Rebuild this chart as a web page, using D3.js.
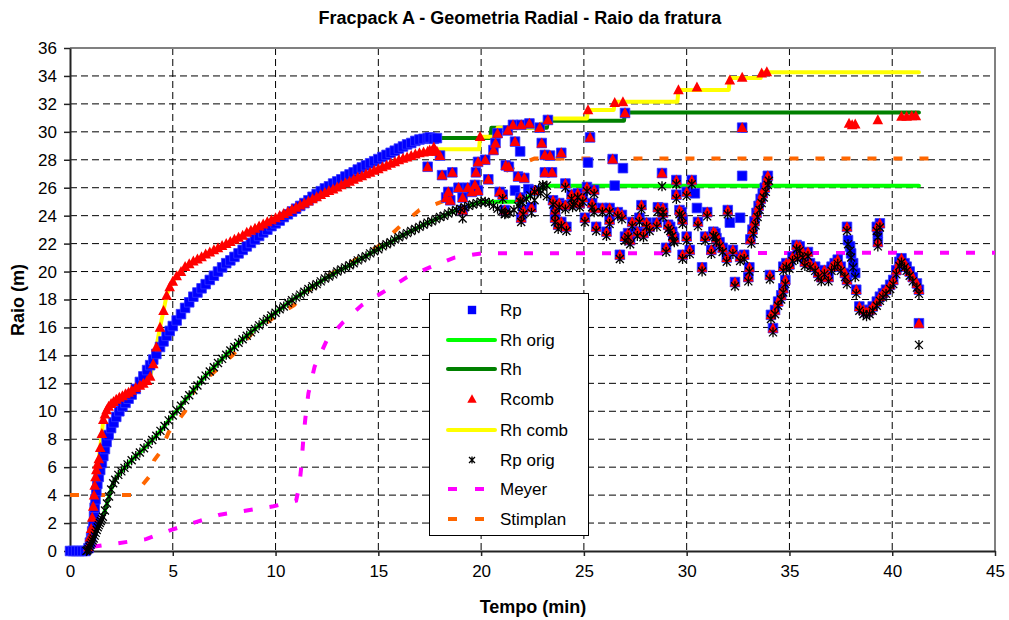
<!DOCTYPE html>
<html>
<head>
<meta charset="utf-8">
<script src="https://cdn.jsdelivr.net/npm/d3@7"></script>
<style>
  body { margin: 0; background: #fff; }
  svg { font-family: Arial, "Liberation Sans", sans-serif; }
</style>
</head>
<body>
<svg id="chart" width="1009" height="620"></svg>
<script>
// ---- axis ticks ----
const xTicks = [0, 5, 10, 15, 20, 25, 30, 35, 40, 45];
const yTicks = [0, 2, 4, 6, 8, 10, 12, 14, 16, 18, 20, 22, 24, 26, 28, 30, 32, 34, 36];

// ---- legend labels ----
const seriesNames = ["Rp", "Rh orig", "Rh", "Rcomb", "Rh comb", "Rp orig", "Meyer", "Stimplan"];

// ---- Rp: continuous growth phase [tempo, raio] ----
const rpCurve = [[0,0],[0.15,0],[0.3,0],[0.45,0],[0.6,0],[0.75,0],[0.9,0.2],[0.97,0.6],[1.03,1.0],[1.08,1.4],[1.13,1.9],[1.17,2.5],[1.2,3.1],[1.24,3.7],[1.28,4.3],[1.33,4.8],[1.4,5.3],[1.47,5.8],[1.55,6.3],[1.62,6.8],[1.7,7.3],[1.78,7.8],[1.88,8.3],[2.0,8.8],[2.12,9.2],[2.25,9.6],[2.4,10.0],[2.55,10.35],[2.7,10.6],[2.85,10.9],[3.0,11.2],[3.2,11.6],[3.4,12.1],[3.57,12.5],[3.75,12.95],[3.9,13.3],[4.05,13.7],[4.2,14.1],[4.38,14.6],[4.55,15.0],[4.7,15.4],[4.85,15.75],[5.0,16.1],[5.19,16.5],
  [5.4,16.95],[5.6,17.4],[5.8,17.8],[6.0,18.2],[6.2,18.5],[6.4,18.8],[6.6,19.1],[6.8,19.4],[7.0,19.7],[7.2,20.0],[7.4,20.3],[7.6,20.6],[7.8,20.8],[8.0,21.05],[8.2,21.3],[8.4,21.55],[8.6,21.8],[8.8,22.05],[9.0,22.3],[9.2,22.55],[9.4,22.8],[9.6,23.0],[9.8,23.25],[10.0,23.45],[10.2,23.65],[10.4,23.9],[10.6,24.1],[10.8,24.3],[11.0,24.5],[11.2,24.7],[11.4,24.9],[11.6,25.1],[11.8,25.35],[12.0,25.55],[12.2,25.75],[12.4,25.95],[12.6,26.1],[12.8,26.3],[13.0,26.45],[13.2,26.6],[13.4,26.8],[13.6,26.95],[13.8,27.1],[14.0,27.3],[14.2,27.45],[14.4,27.6],[14.6,27.75],[14.8,27.9],[15.0,28.05],[15.2,28.2],[15.4,28.35],[15.6,28.5],[15.8,28.65],[16.0,28.8],[16.2,28.95],[16.4,29.1],[16.6,29.2],[16.8,29.35],[17.0,29.45],[17.2,29.5],[17.4,29.55],[17.6,29.55]];

// ---- Rcomb: continuous growth phase ----
const rcombCurve = [[0.9,0.3],[0.97,1.0],[1.03,1.6],[1.08,2.4],[1.13,3.2],[1.17,4.0],[1.2,4.7],[1.24,5.3],[1.28,5.8],[1.33,6.2],[1.4,6.6],[1.47,7.4],[1.55,8.4],[1.62,9.4],[1.7,9.8],[1.78,10.1],[1.88,10.35],[2.0,10.55],[2.12,10.7],[2.25,10.85],[2.4,11.0],[2.55,11.1],[2.7,11.25],[2.85,11.35],[3.0,11.5],[3.2,11.7],[3.4,11.85],[3.57,12.0],[3.75,12.2],[3.9,12.5],[4.05,13.4],[4.2,14.6],[4.38,16.0],[4.55,17.2],[4.7,18.3],[4.85,18.9],[5.0,19.3],[5.19,19.7],
  [5.4,20.0],[5.6,20.35],[5.8,20.55],[6.0,20.75],[6.2,20.9],[6.4,21.05],[6.6,21.25],[6.8,21.4],[7.0,21.55],[7.2,21.7],[7.4,21.85],[7.6,22.0],[7.8,22.15],[8.0,22.3],[8.2,22.45],[8.4,22.6],[8.6,22.8],[8.8,22.95],[9.0,23.1],[9.2,23.25],[9.4,23.4],[9.6,23.55],[9.8,23.7],[10.0,23.85],[10.2,24.0],[10.4,24.15],[10.6,24.3],[10.8,24.45],[11.0,24.6],[11.2,24.75],[11.4,24.9],[11.6,25.05],[11.8,25.2],[12.0,25.35],[12.2,25.5],[12.4,25.65],[12.6,25.8],[12.8,25.9],[13.0,26.05],[13.2,26.2],[13.4,26.35],[13.6,26.45],[13.8,26.6],[14.0,26.75],[14.2,26.85],[14.4,27.0],[14.6,27.1],[14.8,27.25],[15.0,27.35],[15.2,27.5],[15.4,27.6],[15.6,27.75],[15.8,27.85],[16.0,28.0],[16.2,28.1],[16.4,28.2],[16.6,28.3],[16.8,28.4],[17.0,28.5],[17.2,28.55],[17.4,28.6],[17.6,28.6]];

// ---- Rp orig: continuous growth phase ----
const rpOrigCurve = [[0.8,0],[0.85,0.05],[0.9,0.15],[0.95,0.3],[1.0,0.45],[1.05,0.6],[1.1,0.75],[1.15,0.9],[1.2,1.1],[1.25,1.3],[1.3,1.5],[1.35,1.7],[1.4,1.85],[1.45,2.0],[1.5,2.15],[1.55,2.3],[1.6,2.45],[1.7,2.9],[1.8,3.4],[1.9,3.9],[2.0,4.4],[2.1,4.85],[2.2,5.1],[2.35,5.45],[2.5,5.7],[2.65,5.95],[2.8,6.2],[3.0,6.5],[3.2,6.8],[3.4,7.05],[3.6,7.35],[3.8,7.65],[4.0,7.95],[4.2,8.25],[4.4,8.6],[4.6,8.95],[4.8,9.35],
  [5.0,9.7],[5.2,10.05],[5.4,10.4],[5.6,10.8],[5.8,11.15],[6.0,11.5],[6.2,11.85],[6.4,12.2],[6.6,12.55],[6.8,12.85],[7.0,13.15],[7.2,13.45],[7.4,13.75],[7.6,14.05],[7.8,14.35],[8.0,14.6],[8.2,14.9],[8.4,15.15],[8.6,15.4],[8.8,15.65],[9.0,15.9],[9.2,16.15],[9.4,16.4],[9.6,16.6],[9.8,16.85],[10.0,17.05],[10.2,17.3],[10.4,17.5],[10.6,17.75],[10.8,17.95],[11.0,18.15],[11.2,18.35],[11.4,18.55],[11.6,18.75],[11.8,18.95],[12.0,19.1],[12.2,19.3],[12.4,19.5],[12.6,19.65],[12.8,19.8],[13.0,20.0],[13.2,20.15],[13.4,20.3],[13.6,20.45],[13.8,20.6],[14.0,20.8],[14.2,20.95],[14.4,21.1],[14.6,21.3],[14.8,21.45],[15.0,21.6],[15.2,21.8],[15.4,21.95],[15.6,22.1],[15.8,22.3],[16.0,22.45],[16.2,22.6],[16.4,22.75],[16.6,22.9],[16.8,23.05],[17.0,23.2],[17.2,23.35],[17.4,23.5],[17.6,23.6],[17.8,23.75],[18.0,23.9],[18.2,24.0],[18.4,24.15],[18.6,24.3],[18.8,24.4],[19.0,24.5],[19.2,24.6],[19.4,24.7],[19.6,24.8],[19.8,24.9],[20.0,25.0],
  [20.2,25.0],[20.4,24.9],[20.6,24.7],[20.8,24.5],[21.0,24.3],[21.2,24.15],[21.4,24.2],[21.6,24.4],[21.8,24.7],[22.0,24.95],[22.2,25.2],[22.4,25.45],[22.6,25.7],[22.8,25.9],[23.0,26.05],[23.2,26.15]];

// ---- scattered phase (closures / re-openings) ----
const rpScatter = [[17.4,27.5],[17.5,29.6],[17.7,29.5],[17.85,29.55],[18.0,28.3],[18.1,26.9],[18.3,25.3],[18.4,25.7],[18.5,25.1],[18.6,27.1],[18.9,26.0],[19.1,25.3],[19.1,24.4],[19.35,26.0],[19.55,25.7],[19.7,26.2],[19.75,27.1],[19.85,25.8],[19.85,27.85],[20.2,28.0],[20.35,26.6],[20.6,28.7],[20.7,29.2],[20.8,29.9],[20.9,25.7],[21.05,25.5],[21.15,24.4],[21.2,27.6],[21.3,30.1],[21.35,27.5],[21.55,30.5],[21.65,29.3],[21.65,25.8],[21.8,26.8],[21.9,28.6],[21.9,25.3],[21.95,30.5],[21.95,23.85],[22.05,24.4],[22.1,26.7],[22.3,25.9],[22.35,30.6],[22.45,24.6],[22.6,25.8],[22.85,30.3],[22.95,29.2],[23.1,27.1],[23.1,28.35],[23.25,30.85],[23.35,28.3],[23.45,27.1],
  [23.5,25.1],[23.6,24.4],[23.6,23.85],[23.75,23.35],[23.8,24.9],[23.9,28.5],[23.9,23.55],[24.1,26.3],[24.1,24.75],[24.15,23.2],[24.4,25.5],[24.45,24.9],[24.5,25.1],[24.7,25.6],[24.8,24.9],[24.95,25.3],[25.05,23.85],[25.15,26.05],[25.2,27.8],[25.3,29.6],[25.4,24.9],[25.5,25.85],[25.5,24.55],[25.6,23.2],[25.9,24.55],[26.1,22.85],[26.25,24.55],[26.25,23.7],[26.4,28.05],[26.5,26.15],[26.65,24.25],[26.75,21.2],[26.85,24.05],[26.9,27.4],[27.0,31.35],[27.0,22.5],[27.15,22.75],[27.25,22.25],[27.35,23.55],[27.6,22.85],[27.7,23.85],[27.8,24.75],[27.9,22.75],[28.05,23.5],[28.2,23.2],[28.55,23.5],[28.6,24.6],[28.8,27.05],[28.85,24.55],[28.85,24.2],[29.0,21.7],[29.1,23.35],[29.2,23.2],[29.3,22.85],[29.35,22.5],[29.4,22.4],[29.5,26.55],[29.5,25.5],[29.65,24.4],[29.75,24.25],[29.8,23.7],[29.8,21.2],[30.0,25.7],[30.0,22.5],[30.15,21.55],[30.25,26.55],[30.4,25.6],[30.5,24.55],[30.55,23.55],[30.75,20.3],[30.9,22.5],[31.0,24.25],[31.2,21.55],[31.3,22.85],[31.4,22.75],[31.45,22.4],[31.6,22.1],[31.75,21.7],[31.95,21.0],[32.0,24.4],[32.1,23.5],[32.25,21.55],[32.35,19.25],[32.6,23.85],[32.6,21.05],[32.7,26.85],[32.7,30.3],[32.8,21.2],[33.0,19.6],[33.05,20.3],[33.1,22.3],[33.2,23.0],[33.3,23.6],[33.4,24.2],[33.5,24.7],[33.6,25.2],[33.7,25.6],[33.8,26.0],[33.9,26.5],[33.95,26.85],
  [34.05,19.75],[34.1,16.9],[34.2,15.95],[34.3,17.25],[34.45,17.85],[34.6,18.3],[34.7,18.8],[34.8,19.4],[34.7,20.35],[34.85,20.6],[35.0,20.5],[35.15,21.05],[35.35,21.9],[35.5,21.8],[35.4,21.2],[35.65,21.3],[35.9,21.4],[35.75,20.7],[36.0,20.6],[36.25,20.35],[36.4,19.9],[36.55,19.6],[36.7,20.1],[36.9,19.6],[37.05,20.35],[37.2,20.6],[37.35,20.85],[37.5,20.35],[37.7,19.9],[37.8,19.4],[37.8,23.2],[37.85,22.25],[37.95,21.8],[38.0,21.3],[38.1,20.6],[38.2,19.9],[38.25,18.7],[38.4,17.5],[38.6,17.25],[38.75,17.1],[38.9,17.25],[39.05,17.5],[39.25,17.85],[39.25,23.2],[39.3,22.75],[39.3,22.1],[39.4,23.45],[39.4,18.2],[39.55,18.45],[39.7,18.7],[39.9,19.05],[40.05,19.4],[40.2,20.1],[40.35,20.7],[40.45,20.95],[40.6,20.6],[40.7,20.35],[40.85,20.0],[41.0,19.6],[41.2,19.15],[41.3,18.7],[41.3,16.3]];

const rcombScatter = [[17.4,27.5],[17.5,28.7],[17.7,28.9],[17.85,28.6],[18.0,28.3],[18.1,26.9],[18.3,25.3],[18.4,25.7],[18.5,25.1],[18.6,27.1],[18.9,26.0],[19.1,25.3],[19.1,24.4],[19.35,26.0],[19.55,25.7],[19.7,26.2],[19.75,27.1],[19.85,25.8],[19.85,27.85],[19.95,29.65],[20.2,28.0],[20.35,26.6],[20.6,28.7],[20.7,29.2],[20.8,29.9],[20.9,25.7],[21.05,25.5],[21.15,24.4],[21.2,27.6],[21.3,30.1],[21.35,27.5],[21.55,30.5],[21.65,29.3],[21.8,26.8],[21.9,25.3],[21.95,30.5],[21.95,23.85],[22.05,24.4],[22.1,26.7],[22.35,30.6],[22.45,24.6],[22.6,25.8],[22.85,30.3],[22.95,29.2],[23.1,27.1],[23.1,28.35],[23.25,30.85],[23.35,28.3],[23.45,27.1],
  [23.5,25.1],[23.6,24.4],[23.6,23.85],[23.75,23.35],[23.8,24.9],[23.9,28.5],[23.9,23.55],[24.1,26.3],[24.1,24.75],[24.15,23.2],[24.4,25.5],[24.45,24.9],[24.5,25.1],[24.7,25.6],[24.8,24.9],[24.95,25.3],[25.05,23.85],[25.15,26.05],[25.2,31.57],[25.3,29.6],[25.4,24.9],[25.5,25.85],[25.5,24.55],[25.6,23.2],[25.9,24.55],[26.1,22.85],[26.25,24.55],[26.25,23.7],[26.4,28.05],[26.5,32.1],[26.65,24.25],[26.75,21.2],[26.85,24.05],[26.9,32.15],[27.0,31.35],[27.0,22.5],[27.15,22.75],[27.25,22.25],[27.35,23.55],[27.6,22.85],[27.7,23.85],[27.8,24.75],[27.9,22.75],[28.05,23.5],[28.2,23.2],[28.55,23.5],[28.6,24.6],[28.8,27.05],[28.85,24.55],[28.85,24.2],[29.0,21.7],[29.1,23.35],[29.2,23.2],[29.3,22.85],[29.35,22.5],[29.4,22.4],[29.5,26.55],[29.5,25.5],[29.6,33.0],[29.65,24.4],[29.75,24.25],[29.8,23.7],[29.8,21.2],[30.0,25.7],[30.0,22.5],[30.15,21.55],[30.25,26.55],[30.5,33.2],[30.55,23.55],[30.75,20.3],[30.9,22.5],[31.0,24.25],[31.2,21.55],[31.3,22.85],[31.4,22.75],[31.45,22.4],[31.6,22.1],[31.75,21.7],[31.95,21.0],[32.0,24.4],[32.1,33.7],[32.25,21.55],[32.35,19.25],[32.6,21.05],[32.7,30.3],[32.7,33.9],[32.8,21.2],[33.0,19.6],[33.05,20.3],[33.1,22.3],[33.2,23.0],[33.3,23.6],[33.4,24.2],[33.5,24.7],[33.6,25.2],[33.65,34.2],[33.7,25.6],[33.8,26.0],[33.9,26.5],[33.9,34.3],[33.95,26.85],
  [34.05,19.75],[34.1,16.9],[34.2,15.95],[34.3,17.25],[34.45,17.85],[34.6,18.3],[34.7,18.8],[34.8,19.4],[34.7,20.35],[34.85,20.6],[35.0,20.5],[35.15,21.05],[35.35,21.9],[35.5,21.8],[35.4,21.2],[35.65,21.3],[35.9,21.4],[35.75,20.7],[36.0,20.6],[36.25,20.35],[36.4,19.9],[36.55,19.6],[36.7,20.1],[36.9,19.6],[37.05,20.35],[37.2,20.6],[37.35,20.85],[37.5,20.35],[37.7,19.9],[37.8,19.4],[37.8,23.2],[37.9,30.6],[38.05,30.5],[38.2,30.55],[38.25,18.7],[38.4,17.5],[38.6,17.25],[38.75,17.1],[38.9,17.25],[39.05,17.5],[39.25,17.85],[39.25,23.2],[39.3,22.1],[39.3,30.85],[39.4,23.45],[39.4,18.2],[39.55,18.45],[39.7,18.7],[39.9,19.05],[40.05,19.4],[40.2,20.1],[40.35,20.7],[40.45,20.95],[40.45,31.1],[40.6,20.6],[40.7,20.35],[40.7,31.1],[40.85,20.0],[40.95,31.15],[41.0,19.6],[41.15,31.15],[41.2,19.15],[41.3,18.7],[41.3,16.3]];

const rpOrigScatter = [[19.1,23.8],[21.05,25.2],[21.15,24.1],[21.9,25.0],[21.95,23.55],[22.05,24.1],[22.45,24.2],[22.6,25.1],[22.9,25.6],[23.0,26.2],[23.2,25.4],
  [23.5,24.8],[23.6,24.1],[23.6,23.55],[23.75,23.05],[23.8,24.6],[23.9,23.25],[24.1,26.0],[24.1,24.45],[24.15,22.9],[24.4,25.2],[24.45,24.6],[24.5,24.8],[24.7,25.3],[24.8,24.6],[24.95,25.0],[25.05,23.55],[25.15,25.75],[25.4,24.6],[25.5,25.55],[25.5,24.25],[25.6,22.9],[25.9,24.25],[26.1,22.55],[26.25,24.25],[26.25,23.4],[26.65,23.95],[26.75,20.9],[26.85,23.75],[27.0,22.2],[27.15,22.45],[27.25,21.95],[27.35,23.25],[27.6,22.55],[27.7,23.55],[27.8,24.45],[27.9,22.45],[28.05,23.2],[28.2,22.9],[28.55,23.2],[28.6,24.3],[28.8,26.1],[28.85,24.25],[28.85,23.9],[29.0,21.4],[29.1,23.05],[29.2,22.9],[29.3,22.55],[29.35,22.2],[29.4,22.1],[29.5,26.25],[29.5,25.2],[29.65,24.1],[29.75,23.95],[29.8,23.4],[29.8,20.9],[30.0,25.4],[30.0,22.2],[30.15,21.25],[30.25,26.25],[30.55,23.25],[30.75,20.0],[30.9,22.2],[31.0,23.95],[31.2,21.25],[31.3,22.55],[31.4,22.45],[31.45,22.1],[31.6,21.8],[31.75,21.4],[31.95,20.7],[32.0,24.1],[32.25,21.25],[32.35,18.95],[32.6,20.75],[32.8,20.9],[33.0,19.3],[33.05,20.0],[33.15,22.0],[33.25,22.7],[33.35,23.3],[33.45,23.9],[33.55,24.4],[33.65,24.9],[33.75,25.3],[33.85,25.7],[33.95,26.2],[34.0,26.5],
  [34.05,19.45],[34.1,16.6],[34.2,15.65],[34.3,16.95],[34.45,17.55],[34.6,18.0],[34.7,18.5],[34.8,19.1],[34.7,20.05],[34.85,20.3],[35.0,20.2],[35.15,20.75],[35.35,21.6],[35.5,21.5],[35.4,20.9],[35.65,21.0],[35.9,21.1],[35.75,20.4],[36.0,20.3],[36.25,20.05],[36.4,19.6],[36.55,19.3],[36.7,19.8],[36.9,19.3],[37.05,20.05],[37.2,20.3],[37.35,20.55],[37.5,20.05],[37.7,19.6],[37.8,19.1],[37.8,22.9],[37.85,21.95],[37.95,21.5],[38.0,21.0],[38.1,20.3],[38.2,19.6],[38.25,18.4],[38.4,17.2],[38.6,16.95],[38.75,16.8],[38.9,16.95],[39.05,17.2],[39.25,17.55],[39.25,22.9],[39.3,22.45],[39.3,21.8],[39.4,23.15],[39.4,17.9],[39.55,18.15],[39.7,18.4],[39.9,18.75],[40.05,19.1],[40.2,19.8],[40.35,20.4],[40.45,20.65],[40.6,20.3],[40.7,20.05],[40.85,19.7],[41.0,19.3],[41.2,18.85],[41.3,18.4],[41.3,14.75]];

// ---- Rh orig / Rh / Rh comb: running maxima after the growth phase ----
const rhOrigSteps = [[20.0,25.0],[22.0,25.0],[22.4,25.45],[22.8,25.9],[23.2,26.15],[41.3,26.15]];
const rhSteps = [[17.6,29.55],[20.45,29.55],[20.5,30.3],[23.2,30.3],[23.25,30.8],[26.95,30.8],[27.0,31.38],[41.3,31.38]];
const rhCombSteps = [[17.6,28.6],[17.9,28.75],[19.9,28.75],[19.95,29.65],[20.75,29.65],[20.8,30.3],[22.85,30.3],[22.9,30.6],[23.2,30.6],[23.25,30.95],[25.15,30.95],[25.2,31.57],[26.45,31.57],[26.5,32.15],[29.55,32.15],[29.6,33.0],[32.05,33.0],[32.1,33.85],[33.6,33.85],[33.65,34.27],[41.3,34.27]];

// ---- model curves ----
const meyer = [[1.1,0.3],[2.3,0.55],[3.7,0.85],[4.9,1.5],[6.2,2.1],[7.3,2.6],[8.6,2.9],[9.9,3.2],[11.0,3.6],[11.15,4.6],[11.25,6.0],[11.35,8.0],[11.45,9.5],[11.6,11.3],[11.9,13.2],[12.5,15.1],[13.3,16.4],[14.2,17.6],[15.2,18.5],[16.4,19.6],[17.5,20.3],[18.7,21.0],[20.0,21.3],[45,21.35]];
const stimplan = [[0,4.0],[3.1,4.0],[3.4,4.5],[3.9,5.4],[4.1,6.5],[4.4,7.1],[4.8,8.5],[5.6,10.0],[6.1,11.7],[7.0,12.8],[7.9,14.0],[8.8,15.5],[9.9,16.7],[10.9,17.6],[12.0,19.2],[13.5,20.5],[15.0,21.8],[16.1,23.3],[17.0,24.4],[18.1,25.0],[19.3,25.8],[20.6,26.8],[21.8,27.6],[22.6,28.1],[42,28.1]];

// ---- layout ----
const svg = d3.select("#chart");
const plot = { left: 70, right: 995, top: 48, bottom: 551 };
const x = d3.scaleLinear().domain([0, 45]).range([plot.left, plot.right]);
const y = d3.scaleLinear().domain([0, 36]).range([plot.bottom, plot.top]);

svg.append("rect").attr("width", 1009).attr("height", 620).attr("fill", "#fff");

// dashed grid
const grid = svg.append("g");
grid.selectAll("line.h").data(yTicks.filter(v => v > 0 && v < 36)).join("line")
  .attr("x1", plot.left).attr("x2", plot.right)
  .attr("y1", d => y(d)).attr("y2", d => y(d))
  .attr("stroke", "#000").attr("stroke-width", 1).attr("stroke-dasharray", "7,4");
grid.selectAll("line.v").data(xTicks.filter(v => v > 0 && v < 45)).join("line")
  .attr("y1", plot.top).attr("y2", plot.bottom)
  .attr("x1", d => x(d)).attr("x2", d => x(d))
  .attr("stroke", "#000").attr("stroke-width", 1).attr("stroke-dasharray", "7,4");

// plot frame: grey top/right
svg.append("path")
  .attr("d", `M${plot.left},${plot.top}H${plot.right}V${plot.bottom}`)
  .attr("fill", "none").attr("stroke", "#808080").attr("stroke-width", 2);

// axes
const xAxis = svg.append("g").attr("transform", `translate(0,${plot.bottom})`)
  .call(d3.axisBottom(x).tickValues(xTicks).tickSize(5).tickSizeOuter(0).tickPadding(9));
const yAxis = svg.append("g").attr("transform", `translate(${plot.left},0)`)
  .call(d3.axisLeft(y).tickValues(yTicks).tickSize(6).tickSizeOuter(0).tickPadding(7));
[xAxis, yAxis].forEach(g => {
  g.select(".domain").attr("stroke", "#222").attr("stroke-width", 2);
  g.selectAll(".tick line").attr("stroke", "#222").attr("stroke-width", 1.5);
  g.selectAll(".tick text").attr("font-size", 17).attr("fill", "#000")
    .attr("font-family", "Arial, 'Liberation Sans', sans-serif");
});

// titles
svg.append("text").attr("x", 520).attr("y", 24).attr("text-anchor", "middle")
  .attr("font-size", 18).attr("font-weight", "bold").text("Fracpack A - Geometria Radial - Raio da fratura");
svg.append("text").attr("x", 533).attr("y", 613).attr("text-anchor", "middle")
  .attr("font-size", 18).attr("font-weight", "bold").text("Tempo (min)");
svg.append("text").attr("transform", "translate(24,300) rotate(-90)").attr("text-anchor", "middle")
  .attr("font-size", 18).attr("font-weight", "bold").text("Raio (m)");

// line series
const line = d3.line().x(d => x(d[0])).y(d => y(d[1]));
const rhOrigLine = rpOrigCurve.filter(d => d[0] < 20).concat(rhOrigSteps);
const rhLine = rpCurve.concat(rhSteps);
const rhCombLine = rcombCurve.concat(rhCombSteps);

const lines = svg.append("g").attr("fill", "none");
lines.append("path").attr("d", line(stimplan)).attr("stroke", "#FF6600").attr("stroke-width", 4).attr("stroke-dasharray", "9,17");
lines.append("path").attr("d", line(meyer)).attr("stroke", "#FF00FF").attr("stroke-width", 4).attr("stroke-dasharray", "9,17");
lines.append("path").attr("d", line(rhOrigLine)).attr("stroke", "#00FF00").attr("stroke-width", 4).attr("stroke-linecap", "round").attr("stroke-linejoin", "round");
lines.append("path").attr("d", line(rhLine)).attr("stroke", "#008000").attr("stroke-width", 4).attr("stroke-linecap", "round").attr("stroke-linejoin", "round");
lines.append("path").attr("d", line(rhCombLine)).attr("stroke", "#FFFF00").attr("stroke-width", 4).attr("stroke-linecap", "round").attr("stroke-linejoin", "round");

// markers
const squarePath = "M-4.8,-4.8H4.8V4.8H-4.8Z";
const trianglePath = "M0,-5.6L5.3,4.4L-5.3,4.4Z";
const starPath = "M-4,-4L4,4M-4,4L4,-4M0,-5V5";

const rpAll = rpCurve.concat(rpScatter);
const rcombAll = rcombCurve.concat(rcombScatter);
const rpOrigAll = rpOrigCurve.concat(rpOrigScatter);

svg.append("g").selectAll("path").data(rpAll).join("path")
  .attr("d", squarePath).attr("transform", d => `translate(${x(d[0])},${y(d[1])})`)
  .attr("fill", "#0000FF").attr("stroke", "#3535ff").attr("stroke-width", 0.8);
svg.append("g").selectAll("path").data(rcombAll).join("path")
  .attr("d", trianglePath).attr("transform", d => `translate(${x(d[0])},${y(d[1])})`)
  .attr("fill", "#FF0000");
svg.append("g").selectAll("path").data(rpOrigAll).join("path")
  .attr("d", starPath).attr("transform", d => `translate(${x(d[0])},${y(d[1])})`)
  .attr("fill", "none").attr("stroke", "#000").attr("stroke-width", 1.3);

// legend
const lg = svg.append("g");
lg.append("rect").attr("x", 429.5).attr("y", 293.5).attr("width", 159).attr("height", 242)
  .attr("fill", "#fff").attr("stroke", "#000").attr("stroke-width", 1);
const legendY = [310, 340, 369, 399, 430, 460, 489, 519];
const sx = 472, lx1 = 448, lx2 = 495;
seriesNames.forEach((name, i) => {
  lg.append("text").attr("x", 500).attr("y", legendY[i]).attr("dy", "0.36em")
    .attr("font-size", 17).text(name);
});
lg.append("path").attr("d", "M-4.2,-4.2H4.2V4.2H-4.2Z").attr("transform", `translate(${sx},${legendY[0]})`).attr("fill", "#0000FF");
lg.append("line").attr("x1", lx1).attr("x2", lx2).attr("y1", legendY[1]).attr("y2", legendY[1]).attr("stroke", "#00FF00").attr("stroke-width", 4).attr("stroke-linecap", "round");
lg.append("line").attr("x1", lx1).attr("x2", lx2).attr("y1", legendY[2]).attr("y2", legendY[2]).attr("stroke", "#008000").attr("stroke-width", 4).attr("stroke-linecap", "round");
lg.append("path").attr("d", "M0,-4.8L4.7,3.8L-4.7,3.8Z").attr("transform", `translate(${sx},${legendY[3]})`).attr("fill", "#FF0000");
lg.append("line").attr("x1", lx1).attr("x2", lx2).attr("y1", legendY[4]).attr("y2", legendY[4]).attr("stroke", "#FFFF00").attr("stroke-width", 4).attr("stroke-linecap", "round");
lg.append("path").attr("d", "M-3,-3L3,3M-3,3L3,-3M0,-3.5V3.5").attr("transform", `translate(${sx},${legendY[5]})`).attr("stroke", "#000").attr("stroke-width", 1.3);
lg.append("line").attr("x1", lx1).attr("x2", lx2).attr("y1", legendY[6]).attr("y2", legendY[6]).attr("stroke", "#FF00FF").attr("stroke-width", 4).attr("stroke-dasharray", "9,18");
lg.append("line").attr("x1", lx1).attr("x2", lx2).attr("y1", legendY[7]).attr("y2", legendY[7]).attr("stroke", "#FF6600").attr("stroke-width", 4).attr("stroke-dasharray", "9,18");
</script>
</body>
</html>
